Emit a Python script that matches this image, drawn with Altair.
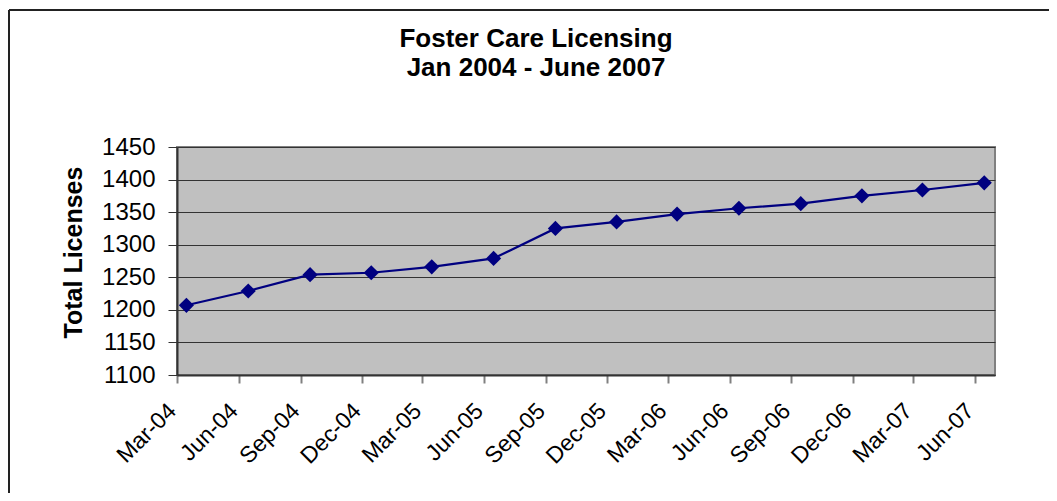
import altair as alt
import pandas as pd

dates = ["2004-03-15", "2004-06-15", "2004-09-15", "2004-12-15",
         "2005-03-15", "2005-06-15", "2005-09-15", "2005-12-15",
         "2006-03-15", "2006-06-15", "2006-09-15", "2006-12-15",
         "2007-03-15", "2007-06-15"]
licenses = [1207, 1229, 1254, 1257, 1266, 1279, 1325, 1335,
            1347, 1356, 1363, 1375, 1384, 1395]

tick_years = [2004, 2004, 2004, 2004, 2005, 2005, 2005, 2005,
              2006, 2006, 2006, 2006, 2007, 2007]
tick_months = [3, 6, 9, 12, 3, 6, 9, 12, 3, 6, 9, 12, 3, 6]
y_ticks = [1100, 1150, 1200, 1250, 1300, 1350, 1400, 1450]

title_line1 = "Foster Care Licensing"
title_line2 = "Jan 2004 - June 2007"
y_title = "Total Licenses"

df = pd.DataFrame({"date": dates, "value": licenses})

FONT = "Liberation Sans"
NAVY = "#000080"

tick_values = [alt.DateTime(year=y, month=m, date=1, utc=True)
               for y, m in zip(tick_years, tick_months)]

x_enc = alt.X(
    "date:T",
    scale=alt.Scale(type="utc",
                    domain=[alt.DateTime(year=2004, month=3, date=1, utc=True),
                            alt.DateTime(year=2007, month=7, date=1, utc=True)]),
    axis=alt.Axis(values=tick_values,
                  labelExpr="utcFormat(datum.value, '%b-%y')",
                  labelAngle=-45, labelAlign="right", labelBaseline="middle",
                  labelPadding=24, labelOffset=-5,
                  labelFont=FONT, labelFontSize=23, labelColor="#000000",
                  tickSize=8, tickColor="#808080", tickWidth=2,
                  domainColor="#333333", domainWidth=2,
                  grid=False, title=None, labelOverlap=False, labelBound=False),
)

y_enc = alt.Y(
    "value:Q",
    scale=alt.Scale(domain=[1100, 1450], nice=False, zero=False),
    axis=alt.Axis(values=y_ticks, format="d",
                  labelFont=FONT, labelFontSize=24, labelColor="#000000",
                  labelPadding=13, tickSize=9, tickColor="#333333", tickWidth=1,
                  labelOverlap=False, labelBound=False, labelFlush=False,
                  domainColor="#333333", domainWidth=2,
                  grid=True, gridColor="#333333", gridWidth=1,
                  title=y_title, titleFont=FONT, titleFontSize=25,
                  titleFontWeight="bold", titleColor="#000000",
                  titleAngle=270, titleX=-104, titleY=105,
                  titleAlign="center", titleBaseline="middle"),
)

base = alt.Chart(df).encode(x=x_enc, y=y_enc)

line = base.mark_line(color=NAVY, strokeWidth=2.2)
points = base.mark_point(shape="diamond", filled=True, color=NAVY,
                         size=230, opacity=1)

one = pd.DataFrame({"k": [0]})
frame_top = alt.Chart(one).mark_rule(color="#222222", strokeWidth=2, clip=False).encode(
    x=alt.value(-168), x2=alt.value(1000), y=alt.value(-137))
frame_left = alt.Chart(one).mark_rule(color="#222222", strokeWidth=2, clip=False).encode(
    x=alt.value(-168), y=alt.value(-137), y2=alt.value(500))

t1 = alt.Chart(pd.DataFrame({"t": [title_line1]})).mark_text(
    font=FONT, fontSize=26, fontWeight="bold", color="#000000",
    align="center", baseline="alphabetic", clip=False
).encode(text="t:N", x=alt.value(359), y=alt.value(-100))
t2 = alt.Chart(pd.DataFrame({"t": [title_line2]})).mark_text(
    font=FONT, fontSize=26, fontWeight="bold", color="#000000",
    align="center", baseline="alphabetic", clip=False
).encode(text="t:N", x=alt.value(359), y=alt.value(-71))

chart = alt.layer(line, points, frame_top, frame_left, t1, t2).properties(
    width=818,
    height=228,
    padding={"left": 169, "top": 139, "right": 54, "bottom": 118},
    autosize=alt.AutoSizeParams(type="none"),
).configure_view(
    fill="#C0C0C0", stroke="#808080", strokeWidth=2
)

chart.save("out.html", embed_options={"renderer": "svg", "actions": False})
